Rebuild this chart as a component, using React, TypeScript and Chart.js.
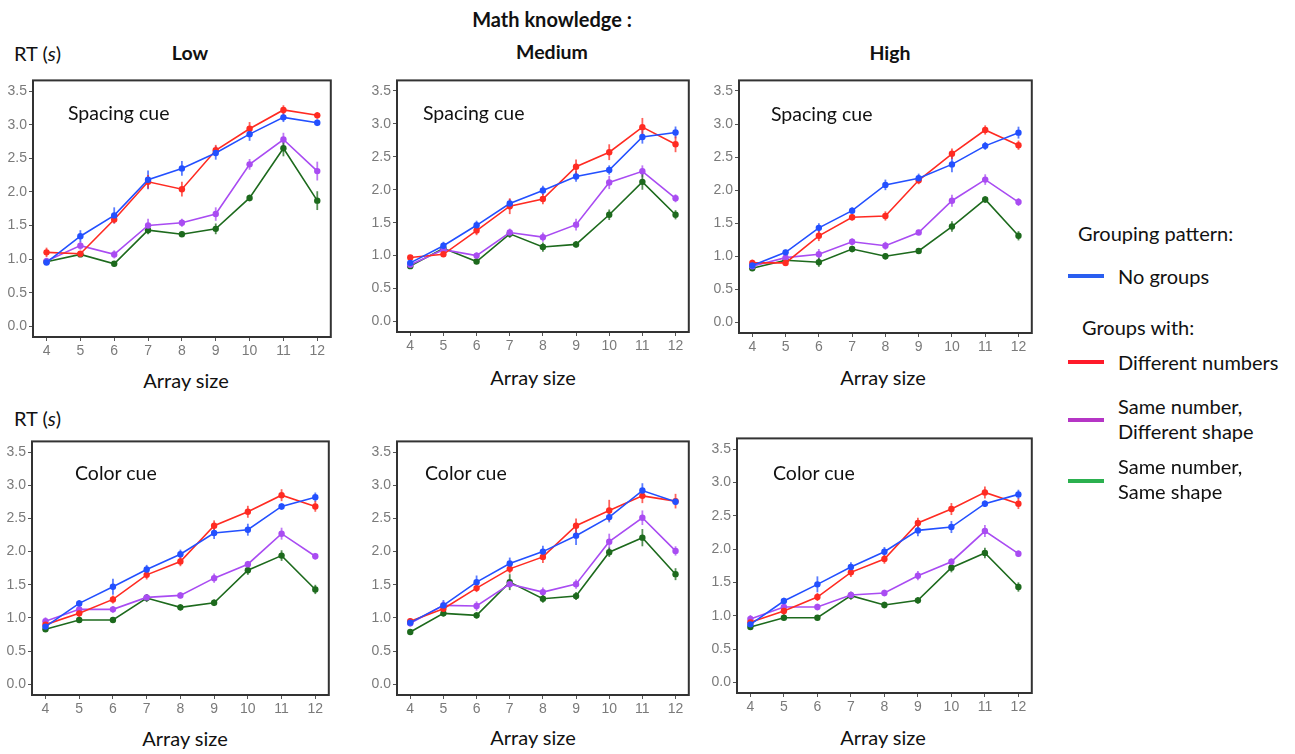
import React, { useEffect, useRef } from 'react';
import { Chart, registerables } from 'chart.js';
Chart.register(...registerables);

// ---------- data ----------
const arraySizes = [4, 5, 6, 7, 8, 9, 10, 11, 12];
const xTickValues = [4, 5, 6, 7, 8, 9, 10, 11, 12];
const yTickValues = [0, 0.5, 1, 1.5, 2, 2.5, 3, 3.5];
const seriesNames = ['No groups', 'Different numbers', 'Same number, Different shape', 'Same number, Same shape'];
const lineColors = ['#2350ff', '#ff2b22', '#a94cf2', '#1d6a1d'];
const legendColors = ['#2a5ef0', '#ff1a2a', '#b535c5', '#2bb04f'];

// Spacing cue — Low
const spLowNoGroups = [0.95, 1.34, 1.65, 2.18, 2.35, 2.58, 2.86, 3.11, 3.03];
const spLowDiffNum = [1.10, 1.08, 1.59, 2.15, 2.04, 2.62, 2.94, 3.22, 3.14];
const spLowSameNumDiffShape = [0.97, 1.20, 1.07, 1.50, 1.54, 1.67, 2.41, 2.78, 2.31];
const spLowSameNumSameShape = [0.96, 1.07, 0.93, 1.43, 1.37, 1.45, 1.91, 2.65, 1.87];
const spLowNoGroupsErr = [0.04, 0.09, 0.12, 0.14, 0.11, 0.10, 0.10, 0.07, 0.05];
const spLowDiffNumErr = [0.07, 0.04, 0.06, 0.10, 0.11, 0.08, 0.10, 0.07, 0.05];
const spLowSameNumDiffShapeErr = [0.05, 0.06, 0.06, 0.10, 0.06, 0.10, 0.08, 0.10, 0.14];
const spLowSameNumSameShapeErr = [0.03, 0.04, 0.04, 0.06, 0.04, 0.08, 0.05, 0.12, 0.14];

// Spacing cue — Medium
const spMedNoGroups = [0.89, 1.15, 1.46, 1.79, 1.99, 2.20, 2.30, 2.80, 2.87];
const spMedDiffNum = [0.97, 1.02, 1.38, 1.75, 1.86, 2.35, 2.57, 2.95, 2.69];
const spMedSameNumDiffShape = [0.86, 1.09, 1.00, 1.35, 1.28, 1.47, 2.11, 2.28, 1.87];
const spMedSameNumSameShape = [0.84, 1.11, 0.91, 1.33, 1.13, 1.17, 1.62, 2.12, 1.62];
const spMedNoGroupsErr = [0.04, 0.06, 0.07, 0.07, 0.07, 0.08, 0.07, 0.10, 0.09];
const spMedDiffNumErr = [0.04, 0.04, 0.07, 0.12, 0.08, 0.11, 0.12, 0.14, 0.12];
const spMedSameNumDiffShapeErr = [0.04, 0.05, 0.05, 0.06, 0.07, 0.09, 0.10, 0.09, 0.06];
const spMedSameNumSameShapeErr = [0.03, 0.05, 0.04, 0.06, 0.07, 0.05, 0.08, 0.12, 0.07];

// Spacing cue — High
const spHighNoGroups = [0.86, 1.06, 1.43, 1.69, 2.08, 2.18, 2.39, 2.67, 2.87];
const spHighDiffNum = [0.90, 0.90, 1.31, 1.59, 1.61, 2.15, 2.55, 2.91, 2.68];
const spHighSameNumDiffShape = [0.85, 0.98, 1.03, 1.22, 1.16, 1.36, 1.84, 2.16, 1.82];
const spHighSameNumSameShape = [0.82, 0.94, 0.91, 1.11, 1.00, 1.08, 1.45, 1.86, 1.31];
const spHighNoGroupsErr = [0.03, 0.04, 0.07, 0.05, 0.08, 0.07, 0.12, 0.06, 0.09];
const spHighDiffNumErr = [0.05, 0.05, 0.08, 0.05, 0.07, 0.06, 0.08, 0.07, 0.07];
const spHighSameNumDiffShapeErr = [0.03, 0.05, 0.08, 0.05, 0.06, 0.04, 0.09, 0.08, 0.06];
const spHighSameNumSameShapeErr = [0.03, 0.05, 0.07, 0.05, 0.05, 0.04, 0.08, 0.05, 0.07];

// Color cue — Low
const coLowNoGroups = [0.87, 1.22, 1.47, 1.73, 1.96, 2.28, 2.33, 2.68, 2.82];
const coLowDiffNum = [0.90, 1.07, 1.28, 1.65, 1.85, 2.39, 2.60, 2.85, 2.68];
const coLowSameNumDiffShape = [0.95, 1.13, 1.13, 1.31, 1.34, 1.60, 1.81, 2.27, 1.93];
const coLowSameNumSameShape = [0.83, 0.97, 0.97, 1.30, 1.16, 1.23, 1.72, 1.94, 1.43];
const coLowNoGroupsErr = [0.04, 0.05, 0.12, 0.07, 0.07, 0.09, 0.09, 0.05, 0.07];
const coLowDiffNumErr = [0.04, 0.06, 0.06, 0.07, 0.07, 0.08, 0.09, 0.09, 0.08];
const coLowSameNumDiffShapeErr = [0.06, 0.05, 0.05, 0.05, 0.05, 0.07, 0.05, 0.09, 0.05];
const coLowSameNumSameShapeErr = [0.03, 0.04, 0.04, 0.06, 0.05, 0.05, 0.07, 0.08, 0.07];

// Color cue — Medium
const coMedNoGroups = [0.93, 1.19, 1.54, 1.82, 2.00, 2.24, 2.52, 2.92, 2.75];
const coMedDiffNum = [0.95, 1.14, 1.45, 1.74, 1.92, 2.39, 2.62, 2.84, 2.76];
const coMedSameNumDiffShape = [0.92, 1.19, 1.18, 1.51, 1.39, 1.51, 2.15, 2.51, 2.01];
const coMedSameNumSameShape = [0.79, 1.07, 1.04, 1.54, 1.29, 1.33, 1.99, 2.21, 1.66];
const coMedNoGroupsErr = [0.04, 0.08, 0.10, 0.09, 0.09, 0.14, 0.08, 0.11, 0.05];
const coMedDiffNumErr = [0.05, 0.05, 0.06, 0.07, 0.09, 0.11, 0.16, 0.11, 0.11];
const coMedSameNumDiffShapeErr = [0.05, 0.06, 0.07, 0.05, 0.07, 0.07, 0.12, 0.11, 0.07];
const coMedSameNumSameShapeErr = [0.03, 0.05, 0.05, 0.12, 0.06, 0.06, 0.07, 0.13, 0.09];

// Color cue — High (same as shown for Low in the reference)
const coHighNoGroups = [0.87, 1.22, 1.47, 1.73, 1.96, 2.28, 2.33, 2.68, 2.82];
const coHighDiffNum = [0.90, 1.07, 1.28, 1.65, 1.85, 2.39, 2.60, 2.85, 2.68];
const coHighSameNumDiffShape = [0.95, 1.13, 1.13, 1.31, 1.34, 1.60, 1.81, 2.27, 1.93];
const coHighSameNumSameShape = [0.83, 0.97, 0.97, 1.30, 1.16, 1.23, 1.72, 1.94, 1.43];
const coHighNoGroupsErr = [0.04, 0.05, 0.12, 0.07, 0.07, 0.09, 0.09, 0.05, 0.07];
const coHighDiffNumErr = [0.04, 0.06, 0.06, 0.07, 0.07, 0.08, 0.09, 0.09, 0.08];
const coHighSameNumDiffShapeErr = [0.06, 0.05, 0.05, 0.05, 0.05, 0.07, 0.05, 0.09, 0.05];
const coHighSameNumSameShapeErr = [0.03, 0.04, 0.04, 0.06, 0.05, 0.05, 0.07, 0.08, 0.07];

type Series = { values: number[]; errors: number[] };
type Box = { l: number; r: number; t: number; b: number };

const FONT = 'Lato, "Open Sans", sans-serif';
const TICK_FONT = '"Liberation Sans", Arial, sans-serif';

const errorBarPlugin = {
  id: 'errorBars',
  beforeDatasetsDraw(chart: any) {
    const ctx = chart.ctx;
    const y = chart.scales.y;
    const x = chart.scales.x;
    chart.data.datasets.forEach((ds: any) => {
      ctx.save();
      ctx.strokeStyle = ds.borderColor;
      ctx.globalAlpha = 0.75;
      ctx.lineWidth = 1.8;
      ds.data.forEach((p: any, j: number) => {
        const e = ds.errors[j];
        const px = x.getPixelForValue(p.x);
        ctx.beginPath();
        ctx.moveTo(px, y.getPixelForValue(p.y - e));
        ctx.lineTo(px, y.getPixelForValue(p.y + e));
        ctx.stroke();
      });
      ctx.restore();
    });
  },
};

const boxPlugin = {
  id: 'panelBox',
  afterDraw(chart: any) {
    const { ctx, chartArea } = chart;
    ctx.save();
    ctx.strokeStyle = '#333';
    ctx.lineWidth = 2;
    ctx.strokeRect(chartArea.left, chartArea.top, chartArea.right - chartArea.left, chartArea.bottom - chartArea.top);
    ctx.restore();
  },
};

const LEFT = 31;
const BOTTOM = 25;
const PAD = 2;

function Panel({ box, series }: { box: Box; series: Series[] }) {
  const ref = useRef<HTMLCanvasElement>(null);
  useEffect(() => {
    const datasets = series.map((s, i) => ({
      label: seriesNames[i],
      data: arraySizes.map((x, j) => ({ x, y: s.values[j] })),
      errors: s.errors,
      borderColor: lineColors[i],
      backgroundColor: lineColors[i],
      borderWidth: 1.6,
      pointRadius: 3.2,
      pointHoverRadius: 3.2,
      pointBorderWidth: 0,
      tension: 0,
    }));
    const chart = new Chart(ref.current as HTMLCanvasElement, {
      type: 'line',
      data: { datasets: datasets as any },
      options: {
        animation: false,
        responsive: false,
        maintainAspectRatio: false,
        layout: { padding: { top: PAD, right: PAD, left: 0, bottom: 0 } },
        plugins: { legend: { display: false }, tooltip: { enabled: false } },
        scales: {
          x: {
            type: 'linear',
            min: 3.6,
            max: 12.4,
            afterBuildTicks: (s: any) => {
              s.ticks = xTickValues.map((v) => ({ value: v }));
            },
            afterFit: (s: any) => {
              s.height = BOTTOM;
            },
            grid: { drawOnChartArea: false, drawTicks: true, tickLength: 4, color: '#555', tickColor: '#555' },
            border: { display: false },
            ticks: {
              color: '#7a7a7a',
              font: { family: TICK_FONT, size: 14 },
              padding: 2,
              maxRotation: 0,
              autoSkip: false,
              callback: (v: any) => String(v),
            },
          },
          y: {
            type: 'linear',
            min: -0.16,
            max: 3.66,
            afterBuildTicks: (s: any) => {
              s.ticks = yTickValues.map((v) => ({ value: v }));
            },
            afterFit: (s: any) => {
              s.width = LEFT;
            },
            grid: { drawOnChartArea: false, drawTicks: true, tickLength: 4, color: '#555', tickColor: '#555' },
            border: { display: false },
            ticks: {
              color: '#7a7a7a',
              font: { family: TICK_FONT, size: 14 },
              padding: 2,
              autoSkip: false,
              callback: (v: any) => Number(v).toFixed(1),
            },
          },
        },
      },
      plugins: [errorBarPlugin, boxPlugin],
    });
    return () => chart.destroy();
  }, []);
  return (
    <canvas
      ref={ref}
      width={box.r - box.l + LEFT + PAD}
      height={box.b - box.t + PAD + BOTTOM}
      style={{ position: 'absolute', left: box.l - LEFT, top: box.t - PAD }}
    />
  );
}

function mk(v: number[][], e: number[][]): Series[] {
  return v.map((values, i) => ({ values, errors: e[i] }));
}

const panels: { box: Box; series: Series[]; cue: string; cueX: number; cueY: number; axisX: number; axisY: number }[] = [
  {
    box: { l: 33, r: 332, t: 72, b: 337 },
    series: mk([spLowNoGroups, spLowDiffNum, spLowSameNumDiffShape, spLowSameNumSameShape], [spLowNoGroupsErr, spLowDiffNumErr, spLowSameNumDiffShapeErr, spLowSameNumSameShapeErr]),
    cue: 'Spacing cue', cueX: 68, cueY: 113, axisX: 186, axisY: 380,
  },
  {
    box: { l: 397, r: 690, t: 72, b: 332 },
    series: mk([spMedNoGroups, spMedDiffNum, spMedSameNumDiffShape, spMedSameNumSameShape], [spMedNoGroupsErr, spMedDiffNumErr, spMedSameNumDiffShapeErr, spMedSameNumSameShapeErr]),
    cue: 'Spacing cue', cueX: 423, cueY: 113, axisX: 533, axisY: 377,
  },
  {
    box: { l: 739, r: 1033, t: 72, b: 333 },
    series: mk([spHighNoGroups, spHighDiffNum, spHighSameNumDiffShape, spHighSameNumSameShape], [spHighNoGroupsErr, spHighDiffNumErr, spHighSameNumDiffShapeErr, spHighSameNumSameShapeErr]),
    cue: 'Spacing cue', cueX: 771, cueY: 114, axisX: 883, axisY: 377,
  },
  {
    box: { l: 32, r: 330, t: 433, b: 695 },
    series: mk([coLowNoGroups, coLowDiffNum, coLowSameNumDiffShape, coLowSameNumSameShape], [coLowNoGroupsErr, coLowDiffNumErr, coLowSameNumDiffShapeErr, coLowSameNumSameShapeErr]),
    cue: 'Color cue', cueX: 75, cueY: 473, axisX: 185, axisY: 738,
  },
  {
    box: { l: 397, r: 690, t: 433, b: 695 },
    series: mk([coMedNoGroups, coMedDiffNum, coMedSameNumDiffShape, coMedSameNumSameShape], [coMedNoGroupsErr, coMedDiffNumErr, coMedSameNumDiffShapeErr, coMedSameNumSameShapeErr]),
    cue: 'Color cue', cueX: 425, cueY: 473, axisX: 533, axisY: 737,
  },
  {
    box: { l: 737, r: 1033, t: 430, b: 693 },
    series: mk([coHighNoGroups, coHighDiffNum, coHighSameNumDiffShape, coHighSameNumSameShape], [coHighNoGroupsErr, coHighDiffNumErr, coHighSameNumDiffShapeErr, coHighSameNumSameShapeErr]),
    cue: 'Color cue', cueX: 773, cueY: 473, axisX: 883, axisY: 737,
  },
];

const textBase: React.CSSProperties = {
  position: 'absolute',
  fontFamily: FONT,
  color: '#111',
  whiteSpace: 'nowrap',
  lineHeight: 1,
};

function Centered({ x, y, size, bold, children }: any) {
  return (
    <div style={{ ...textBase, left: x, top: y, fontSize: size, fontWeight: bold ? 700 : 400, transform: 'translate(-50%, -50%)' }}>
      {children}
    </div>
  );
}

function LeftText({ x, y, size, children }: any) {
  return (
    <div style={{ ...textBase, left: x, top: y, fontSize: size, transform: 'translateY(-50%)' }}>{children}</div>
  );
}

const legendRows = [
  { label: ['No groups'], lineY: 276, textY: [276] },
  { label: ['Different numbers'], lineY: 362, textY: [362] },
  { label: ['Same number,', 'Different shape'], lineY: 420, textY: [406, 431] },
  { label: ['Same number,', 'Same shape'], lineY: 481, textY: [466, 491] },
];

export default function App() {
  return (
    <div style={{ position: 'absolute', left: 0, top: 0, width: 1295, height: 754, background: '#fff', overflow: 'hidden' }}>
      {panels.map((p, i) => (
        <Panel key={i} box={p.box} series={p.series} />
      ))}
      {panels.map((p, i) => (
        <React.Fragment key={'t' + i}>
          <LeftText x={p.cueX} y={p.cueY} size={19.5}>{p.cue}</LeftText>
          <Centered x={p.axisX} y={p.axisY} size={20}>Array size</Centered>
        </React.Fragment>
      ))}
      <Centered x={552} y={19} size={20} bold>Math knowledge :</Centered>
      <Centered x={190} y={53} size={19.5} bold>Low</Centered>
      <Centered x={552} y={52} size={19.5} bold>Medium</Centered>
      <Centered x={890} y={53} size={19.5} bold>High</Centered>
      <LeftText x={14} y={53} size={20}>RT (<i>s</i>)</LeftText>
      <LeftText x={14} y={418} size={20}>RT (<i>s</i>)</LeftText>

      <LeftText x={1078} y={233} size={20}>Grouping pattern:</LeftText>
      <LeftText x={1082} y={327} size={20}>Groups with:</LeftText>
      {legendRows.map((r, i) => (
        <React.Fragment key={'l' + i}>
          <div style={{ position: 'absolute', left: 1068, top: r.lineY - 2, width: 36, height: 4, background: legendColors[i] }} />
          {r.label.map((t, k) => (
            <LeftText key={k} x={1118} y={r.textY[k]} size={20}>{t}</LeftText>
          ))}
        </React.Fragment>
      ))}
    </div>
  );
}
